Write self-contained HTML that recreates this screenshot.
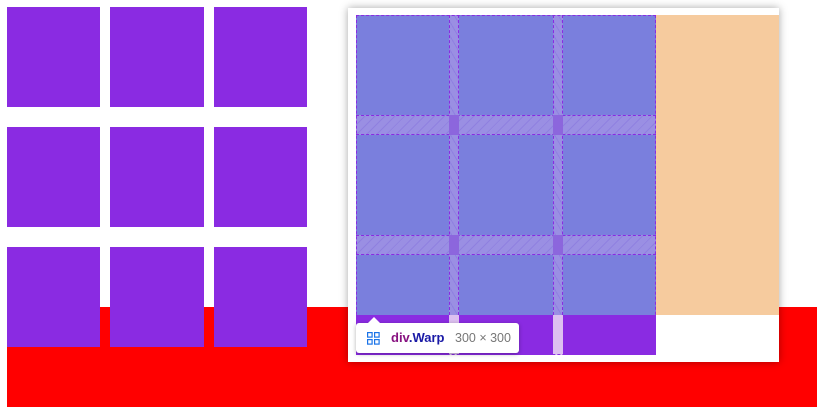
<!DOCTYPE html>
<html><head><meta charset="utf-8"><style>
body{margin:0;width:817px;height:420px;background:#fff;position:relative;overflow:hidden;font-family:"Liberation Sans",sans-serif}
div{position:absolute;box-sizing:border-box}
.it{background:#8a2be2}
.b{background:#7a7fdd}
.g{background:repeating-linear-gradient(135deg,#9a8fe3 0 6px,#8f80e0 6px 7px)}
.gv{background:repeating-linear-gradient(60deg,#9a8fe3 0 6px,#8f80e0 6px 7px)}
</style></head><body>
<div style="left:7px;top:307px;width:810px;height:100px;background:#ff0000"></div>
<div style="left:0;top:0;width:340px;height:360px">
<div class="it" style="left:7px;top:7px;width:93px;height:100px"></div>
<div class="it" style="left:110px;top:7px;width:94px;height:100px"></div>
<div class="it" style="left:214px;top:7px;width:93px;height:100px"></div>
<div class="it" style="left:7px;top:127px;width:93px;height:100px"></div>
<div class="it" style="left:110px;top:127px;width:94px;height:100px"></div>
<div class="it" style="left:214px;top:127px;width:93px;height:100px"></div>
<div class="it" style="left:7px;top:247px;width:93px;height:100px"></div>
<div class="it" style="left:110px;top:247px;width:94px;height:100px"></div>
<div class="it" style="left:214px;top:247px;width:93px;height:100px"></div>
</div>
<div style="left:348px;top:8px;width:431px;height:354px;background:#fff;box-shadow:0 0 8px rgba(0,0,0,0.35)">
<div style="left:308px;top:7px;width:123px;height:300px;background:#f6cb9e"></div>
<div style="left:8px;top:307px;width:300px;height:40px;background:#8a2be2"></div>
<div style="left:101px;top:307px;width:10px;height:40px;background:#dcc0f0"></div>
<div style="left:205px;top:307px;width:10px;height:40px;background:#dcc0f0"></div>
<div class="b" style="left:8px;top:7px;width:300px;height:300px"></div>
<div class="gv" style="left:101px;top:7px;width:10px;height:300px;border-left:1px dashed #8a2be2;border-right:1px dashed #8a2be2"></div>
<div class="gv" style="left:205px;top:7px;width:10px;height:300px;border-left:1px dashed #8a2be2;border-right:1px dashed #8a2be2"></div>
<div class="g" style="left:8px;top:107px;width:300px;height:20px;border-top:1px dashed #8a2be2;border-bottom:1px dashed #8a2be2"></div>
<div class="g" style="left:8px;top:227px;width:300px;height:20px;border-top:1px dashed #8a2be2;border-bottom:1px dashed #8a2be2"></div>
<div style="left:101px;top:107px;width:10px;height:20px;background:#8c66dd"></div>
<div style="left:205px;top:107px;width:10px;height:20px;background:#8c66dd"></div>
<div style="left:101px;top:227px;width:10px;height:20px;background:#8c66dd"></div>
<div style="left:205px;top:227px;width:10px;height:20px;background:#8c66dd"></div>
<div style="left:8px;top:7px;width:300px;height:340px;border:1px dashed #8a2be2"></div>
<div style="left:8px;top:315px;width:163px;height:30px;background:#fff;border-radius:3px;box-shadow:0 1px 4px rgba(0,0,0,0.3);font-size:13px;line-height:30px;white-space:nowrap">
<div style="left:12px;top:-6px;width:0;height:0;border-left:6px solid transparent;border-right:6px solid transparent;border-bottom:6px solid #fff"></div>
<svg style="position:absolute;left:11px;top:9px" width="13" height="13"><g fill="none" stroke="#1a73e8" stroke-width="1.2"><rect x="0.6" y="0.6" width="4.5" height="4.5"/><rect x="7.6" y="0.6" width="4.5" height="4.5"/><rect x="0.6" y="7.6" width="4.5" height="4.5"/><rect x="7.6" y="7.6" width="4.5" height="4.5"/></g></svg>
<span style="position:absolute;left:35px;font-weight:bold"><span style="color:#881280">div</span><span style="color:#1a1aa6">.Warp</span></span>
<span style="position:absolute;left:99px;color:#777;font-size:12.5px">300 × 300</span>
</div>
</div>
</body></html>
